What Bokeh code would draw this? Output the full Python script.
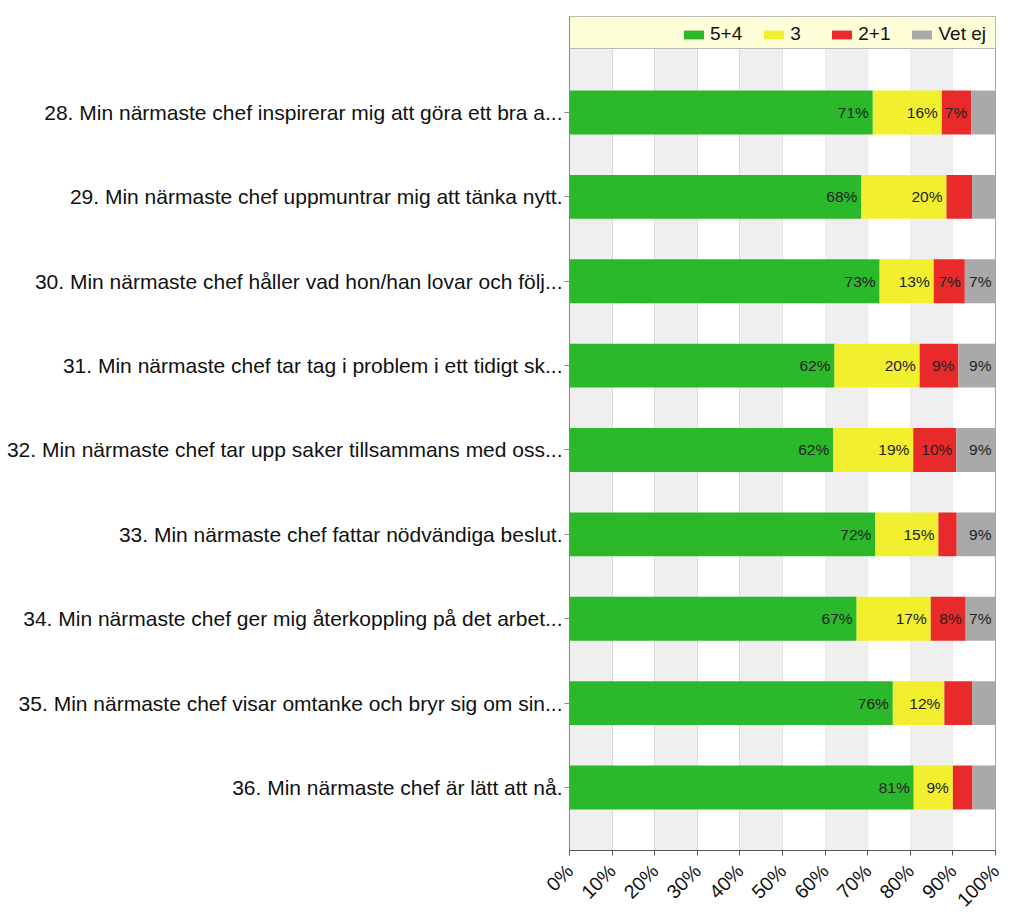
import math
import numpy as np
from bokeh.plotting import figure
from bokeh.models import Range1d, FixedTicker, ColumnDataSource, Legend, LegendItem
from bokeh.embed import file_html
from bokeh.resources import INLINE
from bokeh.core.properties import value

# ---------------- data ----------------
categories = [
    "28. Min närmaste chef inspirerar mig att göra ett bra a...",
    "29. Min närmaste chef uppmuntrar mig att tänka nytt.",
    "30. Min närmaste chef håller vad hon/han lovar och följ...",
    "31. Min närmaste chef tar tag i problem i ett tidigt sk...",
    "32. Min närmaste chef tar upp saker tillsammans med oss...",
    "33. Min närmaste chef fattar nödvändiga beslut.",
    "34. Min närmaste chef ger mig återkoppling på det arbet...",
    "35. Min närmaste chef visar omtanke och bryr sig om sin...",
    "36. Min närmaste chef är lätt att nå.",
]
series_names = ["5+4", "3", "2+1", "Vet ej"]
green = [71.2, 68.5, 72.8, 62.2, 61.9, 71.8, 67.4, 75.9, 80.8]
yellow = [16.2, 20.0, 12.7, 20.0, 18.8, 14.8, 17.4, 12.1, 9.2]
red = [6.9, 6.0, 7.3, 9.1, 10.1, 4.3, 8.2, 6.5, 4.6]
grey = [5.7, 5.5, 7.2, 8.7, 9.2, 9.1, 7.0, 5.5, 5.4]
x_ticks = [0, 10, 20, 30, 40, 50, 60, 70, 80, 90, 100]
x_tick_labels = ["0%", "10%", "20%", "30%", "40%", "50%", "60%", "70%", "80%", "90%", "100%"]
colors = ["#2bb92b", "#f2ef2e", "#e92a2b", "#a9a9a9"]

FONT = "Liberation Sans"

# ---------------- figure ----------------
Y_TOP = -1.138
Y_BOTTOM = 8.747
LEGEND_EDGE = -0.7585

p = figure(
    frame_width=426, frame_height=834,
    min_border_left=569, min_border_right=20, min_border_top=16, min_border_bottom=62,
    x_range=Range1d(0, 100), y_range=Range1d(Y_BOTTOM, Y_TOP),
    output_backend="svg", toolbar_location=None,
    background_fill_color="white", border_fill_color="white",
)
p.outline_line_color = "#a6a6a6"
p.outline_line_width = 1

# alternating background bands
band_left = x_ticks[0:-1:2]
band_right = [v + 10 for v in band_left]
p.quad(left=band_left, right=band_right, top=[LEGEND_EDGE] * len(band_left),
       bottom=[Y_BOTTOM] * len(band_left), fill_color="#efefef", line_color=None)

# legend band
p.quad(left=[0], right=[100], top=[Y_TOP], bottom=[LEGEND_EDGE],
       fill_color="#fefed9", line_color="#b8b8b8", line_width=1)

# grid
p.xgrid.ticker = FixedTicker(ticks=x_ticks)
p.xgrid.grid_line_color = "#d6d6d6"
p.xgrid.level = "underlay"
p.ygrid.visible = False

# bars
ypos = list(range(len(categories)))
data = np.array([green, yellow, red, grey])
cum = np.cumsum(data, axis=0)
starts = np.vstack([np.zeros(len(categories)), cum[:-1]])

renderers = []
for i, name in enumerate(series_names):
    src = ColumnDataSource(dict(
        y=ypos, left=starts[i], right=cum[i],
        lab=[(f"{round(v)}%" if round(v) >= 7 else "") for v in data[i]],
    ))
    r = p.hbar(y="y", left="left", right="right", height=0.52, source=src,
               fill_color=colors[i], line_color=None)
    renderers.append(r)
    p.text(x="right", y="y", text="lab", source=src, x_offset=-4,
           text_align="right", text_baseline="middle",
           text_font=value(FONT), text_font_size="15.5px", text_color="#222222")

# legend
legend = Legend(items=[LegendItem(label=n, renderers=[r]) for n, r in zip(series_names, renderers)],
                orientation="horizontal", location=(112, 805))
legend.background_fill_alpha = 0
legend.border_line_color = None
legend.label_text_font = FONT
legend.label_text_font_size = "19px"
legend.label_text_color = "#111111"
legend.glyph_width = 25
legend.glyph_height = 11
legend.label_standoff = 4
legend.spacing = 19
legend.padding = 4
legend.margin = 0
p.add_layout(legend, "center")

# x axis
p.xaxis.ticker = FixedTicker(ticks=x_ticks)
p.xaxis.major_label_overrides = {t: l for t, l in zip(x_ticks, x_tick_labels)}
p.xaxis.major_label_orientation = math.pi / 4
p.xaxis.major_label_text_font = FONT
p.xaxis.major_label_text_font_size = "19.5px"
p.xaxis.major_label_text_color = "#111111"
p.xaxis.axis_line_color = "#555555"
p.xaxis.major_tick_line_color = "#555555"
p.xaxis.major_tick_out = 5
p.xaxis.major_tick_in = 0
p.xaxis.minor_tick_line_color = None
p.xaxis.major_label_standoff = 12

# y axis
p.yaxis.ticker = FixedTicker(ticks=ypos)
p.yaxis.major_label_overrides = {i: c for i, c in enumerate(categories)}
p.yaxis.major_label_text_font = FONT
p.yaxis.major_label_text_font_size = "21px"
p.yaxis.major_label_text_color = "#111111"
p.yaxis.axis_line_color = "#888888"
p.yaxis.major_tick_line_color = "#888888"
p.yaxis.major_tick_out = 5
p.yaxis.major_tick_in = 0
p.yaxis.minor_tick_line_color = None
p.yaxis.major_label_standoff = 2

open("out.html", "w").write(file_html(p, INLINE))
